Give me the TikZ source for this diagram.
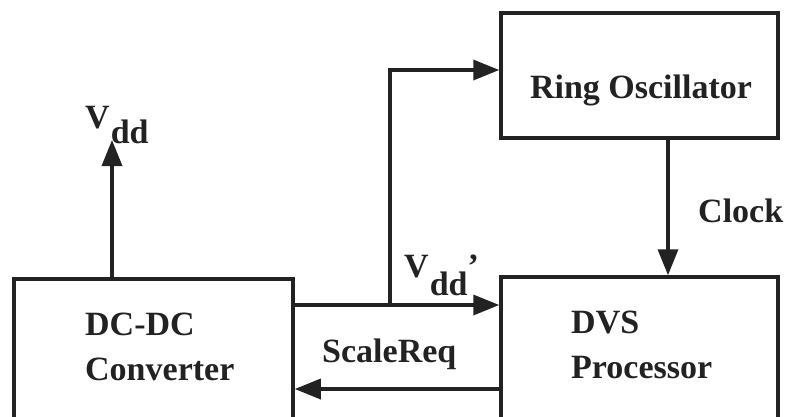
\documentclass[tikz,border=0pt]{standalone}
\usepackage{fontspec}
\setmainfont{Liberation Serif}
\usetikzlibrary{arrows.meta}
\definecolor{ink}{HTML}{222222}
\begin{document}
\begin{tikzpicture}[x=1pt,y=-1pt,
  box/.style={draw=ink, line width=3.5pt, inner sep=0pt, minimum width=#1},
  lbl/.style={text=ink, font=\fontsize{34}{40}\selectfont\bfseries, inner sep=0pt, anchor=base west},
  arr/.style={draw=ink, line width=3.5pt, -{Triangle[length=26pt,width=20pt]}},
  wire/.style={draw=ink, line width=3.5pt}]
\useasboundingbox (0,0) rectangle (786,416);
\clip (0,0) rectangle (786,416);
\fill[white] (0,0) rectangle (786,416);
% boxes
\node[box=279pt, minimum height=171pt] (dc) at (153.5,364.5) {};
\node[box=277pt, minimum height=125pt] (ro) at (639.5,75.5) {};
\node[box=277pt, minimum height=173pt] (dvs) at (639.5,363.5) {};
% texts
\node[lbl] (t1) at (85,335) {DC-DC};
\node[lbl] (t2) at (85,380) {Converter};
\node[lbl, anchor=base] (t3) at (641,98) {Ring Oscillator};
\node[lbl] (t4) at (571,333) {DVS};
\node[lbl] (t5) at (571,378) {Processor};
\node[lbl] (clk) at (698,222) {Clock};
\node[lbl] (sreq) at (322,362) {ScaleReq};
\node[lbl] (vdd) at (85,128) {V\kern1pt\raisebox{-15pt}{dd}};
\node[lbl] (vddp) at (404,277) {V\kern1pt\raisebox{-18pt}{dd}’};
% coordinates
\coordinate (vtip) at (112,140);
\coordinate (split) at (390,305);
\coordinate (up) at (390,70);
\coordinate (cx) at (668,0);
\coordinate (sr) at (0,389);
% connectors
\draw[arr] (dc.north -| vtip) -- (vtip);
\draw[arr] (dc.east |- split) -- (dvs.west |- split);
\draw[arr] (split) -- (up) -- (ro.west |- up);
\draw[arr] (ro.south -| cx) -- (dvs.north -| cx);
\draw[arr] (dvs.west |- sr) -- (dc.east |- sr);
\end{tikzpicture}
\end{document}
